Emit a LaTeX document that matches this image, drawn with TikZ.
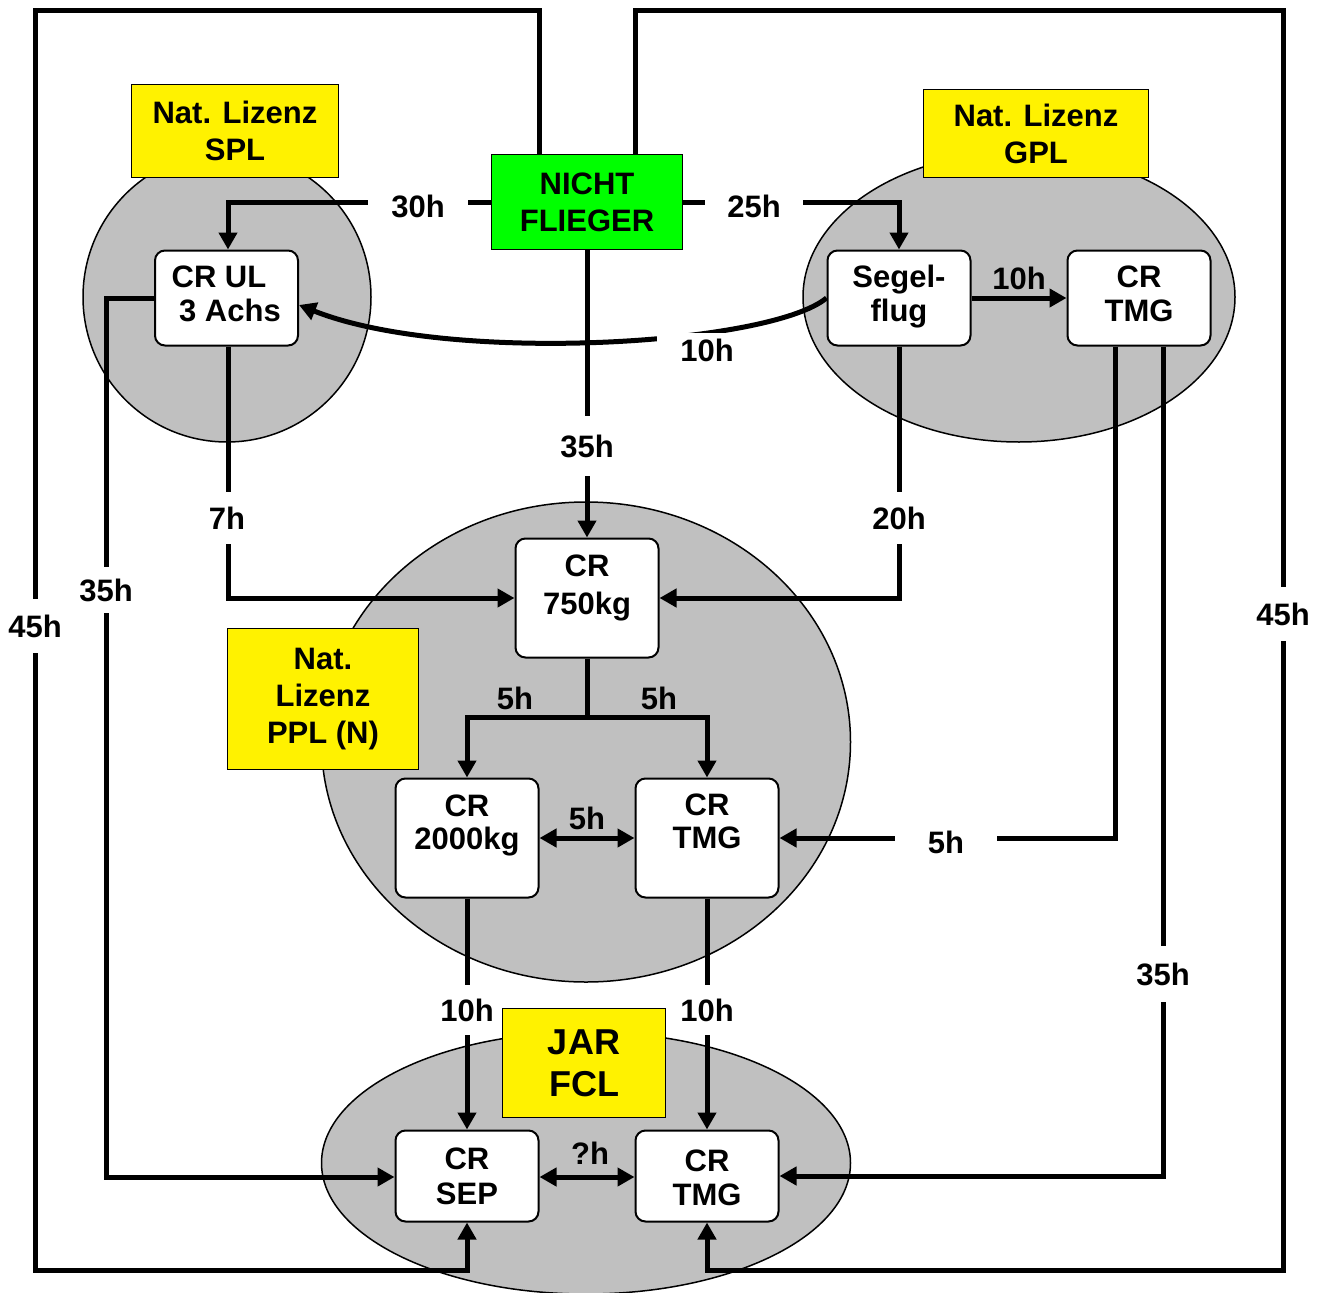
\documentclass[tikz,border=0pt]{standalone}
\usepackage{fontspec}
\setmainfont{Liberation Sans}
\usetikzlibrary{arrows.meta,shapes.geometric}
\begin{document}
\begin{tikzpicture}[x=1pt,y=-1pt,
  ell/.style={ellipse,draw=black,line width=1.5pt,fill=grayfill,inner sep=0pt},
  yel/.style={rectangle,draw=black,line width=1.5pt,fill=yellow,align=center,inner sep=0pt,
    font=\fontsize{31}{37}\selectfont\bfseries},
  grn/.style={yel,fill=green},
  wbox/.style={rectangle,draw=black,line width=2pt,fill=white,rounded corners=10pt,inner sep=0pt,
    minimum width=143pt},
  btxt/.style={align=center,inner sep=0pt},
  lab/.style={inner sep=0pt,font=\fontsize{31}{37}\selectfont\bfseries},
  labw/.style={lab,fill=white},
  ln/.style={line width=5pt},
  tip/.style={-{Triangle[length=17pt,width=18pt]}},
  conn/.style={ln,tip},
  dconn/.style={ln,{Triangle[length=17pt,width=18pt]}-{Triangle[length=17pt,width=18pt]}},
]
\definecolor{grayfill}{RGB}{192,192,192}
\useasboundingbox (0,0) rectangle (1326,1293);
\fill[white] (0,0) rectangle (1326,1293);

% ellipses
\node[ell,minimum width=288pt,minimum height=290pt] (e1) at (227,297) {};
\node[ell,minimum width=432pt,minimum height=290pt] (e2) at (1019,297) {};
\node[ell,minimum width=529pt,minimum height=480pt] (e3) at (586,742) {};
\node[ell,minimum width=529pt,minimum height=262pt] (e4) at (586,1163) {};

% yellow / green boxes
\node[yel,minimum width=207pt,minimum height=93pt] (spl) at (235,131) {Nat. Lizenz\\SPL};
\node[yel,minimum width=225pt,minimum height=88pt] (gpl) at (1036,133.5) {Nat. Lizenz\\GPL};
\node[yel,minimum width=191pt,minimum height=141pt] (ppl) at (323,699) {Nat.\\Lizenz\\PPL (N)};
\node[yel,minimum width=163pt,minimum height=109pt,font=\fontsize{36}{42}\selectfont\bfseries] (jar) at (584,1063) {JAR\\FCL};
\node[grn,minimum width=191pt,minimum height=95pt] (nf) at (587,202) {NICHT\\FLIEGER};

% white boxes
\node[wbox,minimum height=95pt] (ul) at (226.5,298) {};
\node[wbox,minimum height=95pt] (seg) at (899,298) {};
\node[wbox,minimum height=95pt] (tmga) at (1139,298) {};
\node[wbox,minimum height=119pt] (c750) at (587,598) {};
\node[wbox,minimum height=119pt] (c2000) at (467,838) {};
\node[wbox,minimum height=119pt] (tmgb) at (707,838) {};
\node[wbox,minimum height=91pt] (sep) at (467,1176) {};
\node[wbox,minimum height=91pt] (tmgc) at (707,1176) {};

% corner coordinates
\coordinate (otl) at (35,10);
\coordinate (obl) at (35,1270);
\coordinate (otr) at (1283,10);
\coordinate (obr) at (1283,1270);
\coordinate (lcol) at (106,600);
\coordinate (br) at (587,717);

% connectors
\draw[conn] ([xshift=-48pt]nf.north) |- (otl) -- (obl) -| (sep.south);
\draw[conn] ([xshift=48pt]nf.north) |- (otr) -- (obr) -| (tmgc.south);
\draw[conn] (nf.west) -| ([xshift=1.5pt]ul.north);
\draw[conn] (nf.east) -| (seg.north);
\draw[conn] (nf.south) -- (c750.north);
\draw[conn] ([xshift=1.5pt]ul.south) |- (c750.west);
\draw[conn] (seg.south) |- (c750.east);
\draw[conn] (seg.west) .. controls (770,345) and (450,365) .. ([yshift=-7pt]ul.east);
\draw[conn] (seg.east) -- (tmga.west);
\draw[conn] ([xshift=-24pt]tmga.south) |- (tmgb.east);
\draw[conn] ([xshift=24pt]tmga.south) |- (tmgc.east);
\draw[conn] (ul.west) -| (lcol) |- ([yshift=-1pt]sep.west);
\draw[ln] (c750.south) -- (br);
\draw[conn] (br) -| (c2000.north);
\draw[conn] (br) -| (tmgb.north);
\draw[dconn] (c2000.east) -- (tmgb.west);
\draw[conn] (c2000.south) -- (sep.north);
\draw[conn] (tmgb.south) -- (tmgc.north);
\draw[dconn] ([yshift=-1pt]sep.east) -- ([yshift=-1pt]tmgc.west);

% box texts
\node[btxt,font=\fontsize{31}{34}\selectfont\bfseries] (ult) at (230,294) {CR UL\hspace*{22pt}\\3 Achs};
\node[btxt,font=\fontsize{31}{34}\selectfont\bfseries] (segt) at (899,297) {Segel-\\flug};
\node[btxt,font=\fontsize{31}{34}\selectfont\bfseries] (tmgat) at (1139,294) {CR\\TMG};
\node[btxt,font=\fontsize{31}{38}\selectfont\bfseries] (c750t) at (587,588) {CR\\750kg};
\node[btxt,font=\fontsize{31}{33}\selectfont\bfseries] (c2000t) at (467,825) {CR\\2000kg};
\node[btxt,font=\fontsize{31}{33}\selectfont\bfseries] (tmgbt) at (707,821.5) {CR\\TMG};
\node[btxt,font=\fontsize{31}{35}\selectfont\bfseries] (sept) at (467,1176.5) {CR\\SEP};
\node[btxt,font=\fontsize{31}{34}\selectfont\bfseries] (tmgct) at (707,1178) {CR\\TMG};

% labels
\node[labw,inner xsep=23pt,inner ysep=4pt] (l30) at (418,206) {30h};
\node[labw,inner xsep=22pt,inner ysep=4pt] (l25) at (754,206) {25h};
\node[labw,inner xsep=23pt,inner ysep=6pt] (l10c) at (707,350) {10h};
\node[labw,inner xsep=2pt,inner ysep=19pt] (l35a) at (587,446) {35h};
\node[labw,inner xsep=2pt,inner ysep=15pt] (l7) at (227,518) {7h};
\node[labw,inner xsep=2pt,inner ysep=15pt] (l20) at (899,518) {20h};
\node[lab] (l10s) at (1019,278) {10h};
\node[labw,inner xsep=2pt,inner ysep=16pt] (l45l) at (35,626) {45h};
\node[labw,inner xsep=2pt,inner ysep=16pt] (l45r) at (1283,614) {45h};
\node[labw,inner xsep=2pt,inner ysep=12pt] (l35l) at (106,590) {35h};
\node[lab] (l5a) at (515,698) {5h};
\node[lab] (l5b) at (659,698) {5h};
\node[lab] (l5c) at (587,818) {5h};
\node[labw,inner xsep=33pt,inner ysep=4pt] (l5d) at (946,842) {5h};
\node[labw,inner xsep=2pt,inner ysep=17pt] (l35r) at (1163,974) {35h};
\node[labw,inner xsep=2pt,inner ysep=14pt] (l10a) at (467,1010) {10h};
\node[labw,inner xsep=2pt,inner ysep=14pt] (l10b) at (707,1010) {10h};
\node[lab] (lq) at (590,1153) {?h};
\end{tikzpicture}
\end{document}
